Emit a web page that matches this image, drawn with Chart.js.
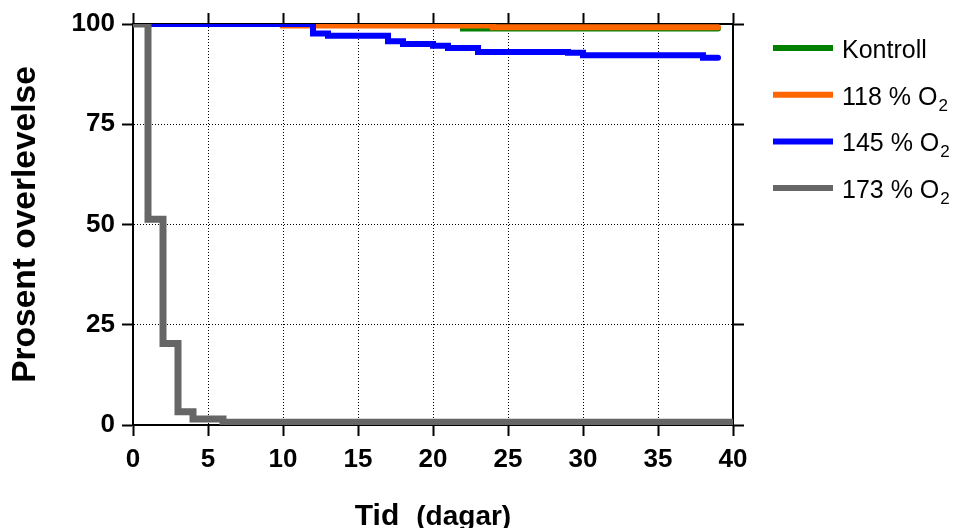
<!DOCTYPE html>
<html>
<head>
<meta charset="utf-8">
<script src="https://cdn.jsdelivr.net/npm/chart.js@4.4.1/dist/chart.umd.min.js"></script>
<style>
    html, body { margin: 0; padding: 0; background: #fff; }
    #wrap { width: 955px; height: 528px; }
</style>
</head>
<body>
<div id="wrap"><canvas id="chart" width="955" height="528"></canvas></div>
<script>
"use strict";

/* survival data: day of each step, percent alive from that day on. */
const kontrollDays = [0, 22, 39];
const kontrollSurv = [100, 98.9, 98.9];

const o118Days = [0, 10, 24, 39];
const o118Surv = [100, 99.6, 99.2, 99.2];

const o145Days = [0, 12, 13, 17, 18, 20, 21, 23, 29, 30, 38, 39];
const o145Surv = [100, 97.6, 97.1, 95.7, 95.0, 94.6, 94.0, 93.0, 92.8, 92.2, 91.6, 91.6];

const o173Days = [0, 1, 2, 3, 4, 6, 40];
const o173Surv = [100, 51.3, 20.3, 3.3, 1.5, 0.7, 0.7];

const xTicks = [0, 5, 10, 15, 20, 25, 30, 35, 40];
const yTicks = [0, 25, 50, 75, 100];

const legendNames = ['Kontroll', '118 % O', '145 % O', '173 % O'];
const legendSubs = ['', '2', '2', '2'];
const seriesColors = ['#008000', '#FF6600', '#0000FF', '#666666'];

const yTitle = 'Prosent overlevelse';
const xTitleMain = 'Tid';
const xTitleUnit = '(dagar)';

const FONT = '"Liberation Sans", Arial, Helvetica, sans-serif';

const toPoints = (days, surv) => days.map((d, i) => ({ x: d, y: surv[i] }));

/* hides the dotted grid line where it would sit on the frame. */
const innerGrid = (lo, hi) => (c) =>
    (c.tick && (c.tick.value === lo || c.tick.value === hi)) ? 'rgba(0,0,0,0)' : '#000';

const makeSet = (label, days, surv, idx, width, order) => ({
    label: label,
    data: toPoints(days, surv),
    borderColor: seriesColors[idx],
    backgroundColor: seriesColors[idx],
    borderWidth: width,
    borderCapStyle: 'round',
    borderJoinStyle: 'miter',
    stepped: 'before',
    pointRadius: 0,
    fill: false,
    order: order
});

/* x axis title, two sizes in one line. */
const xTitlePlugin = {
    id: 'xTitle',
    afterDraw(chart) {
        const ctx = chart.ctx;
        const area = chart.chartArea;
        ctx.save();
        ctx.fillStyle = '#000';
        ctx.textBaseline = 'alphabetic';
        ctx.textAlign = 'left';
        ctx.font = `bold 30px ${FONT}`;
        const w1 = ctx.measureText(xTitleMain).width;
        ctx.font = `bold 28px ${FONT}`;
        const w2 = ctx.measureText(xTitleUnit).width;
        const gap = 17;
        let x = (area.left + area.right) / 2 - (w1 + gap + w2) / 2;
        ctx.font = `bold 30px ${FONT}`;
        ctx.fillText(xTitleMain, x, 525);
        ctx.font = `bold 28px ${FONT}`;
        ctx.fillText(xTitleUnit, x + w1 + gap, 525);
        ctx.restore();
    }
};

/* legend at the right, with subscripts. */
const legendPlugin = {
    id: 'sideLegend',
    afterDraw(chart) {
        const ctx = chart.ctx;
        ctx.save();
        legendNames.forEach((name, i) => {
            const y = 48 + i * 46.7;
            ctx.strokeStyle = seriesColors[i];
            ctx.lineWidth = 6;
            ctx.lineCap = 'butt';
            ctx.beginPath();
            ctx.moveTo(773, y);
            ctx.lineTo(833, y);
            ctx.stroke();

            ctx.fillStyle = '#000';
            ctx.textBaseline = 'alphabetic';
            ctx.textAlign = 'left';
            ctx.font = `25px ${FONT}`;
            ctx.fillText(name, 842, y + 10);
            if (legendSubs[i]) {
                const w = ctx.measureText(name).width;
                ctx.font = `17px ${FONT}`;
                ctx.fillText(legendSubs[i], 842 + w + 1, y + 16);
            }
        });
        ctx.restore();
    }
};

const tickFont = { family: FONT, size: 26, weight: 'bold' };

const chart = new Chart(document.getElementById('chart').getContext('2d'), {
    type: 'line',
    data: {
        datasets: [
            makeSet(legendNames[0], kontrollDays, kontrollSurv, 0, 6, 4),
            makeSet(legendNames[1], o118Days, o118Surv, 1, 6, 3),
            makeSet(legendNames[2], o145Days, o145Surv, 2, 6, 2),
            makeSet(legendNames[3], o173Days, o173Surv, 3, 7, 1)
        ]
    },
    options: {
        responsive: false,
        devicePixelRatio: 1,
        animation: false,
        layout: { padding: 0 },
        plugins: {
            legend: { display: false },
            tooltip: { enabled: false }
        },
        scales: {
            x: {
                type: 'linear',
                position: 'bottom',
                min: xTicks[0],
                max: xTicks[xTicks.length - 1],
                afterBuildTicks: (s) => { s.ticks = xTicks.map(v => ({ value: v })); },
                ticks: { color: '#000', font: tickFont, padding: 8, maxRotation: 0, autoSkip: false },
                grid: { color: innerGrid(0, 40), lineWidth: 1, tickColor: '#000', tickWidth: 2, tickLength: 11, tickBorderDash: [] },
                border: { display: true, color: '#000', width: 2, dash: [1, 2] },
                afterFit: (s) => { s.height = 103; }
            },
            xTop: {
                type: 'linear',
                position: 'top',
                min: xTicks[0],
                max: xTicks[xTicks.length - 1],
                afterBuildTicks: (s) => { s.ticks = xTicks.map(v => ({ value: v })); },
                ticks: { display: false },
                grid: { drawOnChartArea: false, tickColor: '#000', tickWidth: 2, tickLength: 11 },
                border: { display: true, color: '#000', width: 2 },
                afterFit: (s) => { s.height = 24; }
            },
            y: {
                type: 'linear',
                position: 'left',
                min: yTicks[0],
                max: yTicks[yTicks.length - 1],
                afterBuildTicks: (s) => { s.ticks = yTicks.map(v => ({ value: v })); },
                ticks: { color: '#000', font: tickFont, padding: 7 },
                grid: { color: innerGrid(0, 100), lineWidth: 1, tickColor: '#000', tickWidth: 2, tickLength: 11, tickBorderDash: [] },
                border: { display: true, color: '#000', width: 2, dash: [1, 2] },
                title: {
                    display: true,
                    text: yTitle,
                    color: '#000',
                    font: { family: FONT, size: 33.5, weight: 'bold' },
                    padding: { top: 6, bottom: 0 }
                },
                afterFit: (s) => { s.width = 133; }
            },
            yRight: {
                type: 'linear',
                position: 'right',
                min: yTicks[0],
                max: yTicks[yTicks.length - 1],
                afterBuildTicks: (s) => { s.ticks = yTicks.map(v => ({ value: v })); },
                ticks: { display: false },
                grid: { drawOnChartArea: false, tickColor: '#000', tickWidth: 2, tickLength: 11 },
                border: { display: true, color: '#000', width: 2 },
                afterFit: (s) => { s.width = 222; }
            }
        }
    },
    plugins: [xTitlePlugin, legendPlugin]
});
</script>
</body>
</html>
